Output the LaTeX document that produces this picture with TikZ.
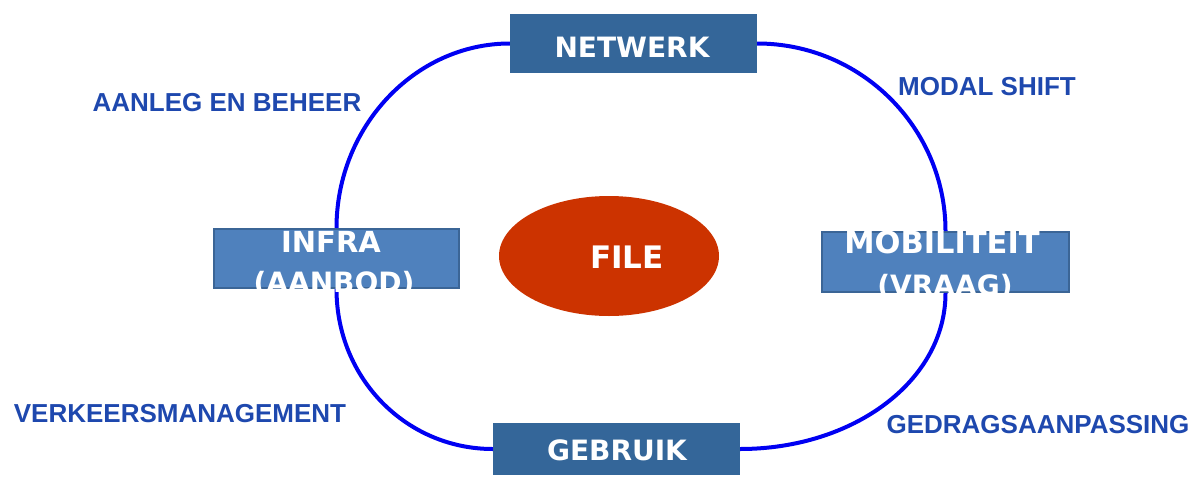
\documentclass[tikz,border=0pt]{standalone}
\usepackage{fontspec}
\setmainfont{Liberation Sans}
\newfontfamily\boxfont{DejaVu Sans}
\usetikzlibrary{shapes.geometric}

\definecolor{darkbox}{HTML}{346699}
\definecolor{lightbox}{HTML}{4F81BD}
\definecolor{lightedge}{HTML}{3B6596}
\definecolor{jam}{HTML}{CC3300}
\definecolor{loopblue}{HTML}{0000F2}
\definecolor{labelblue}{HTML}{1E48AE}

\begin{document}
\begin{tikzpicture}[x=1pt, y=-1pt,
  darkstep/.style={rectangle, fill=darkbox, inner sep=0pt, minimum width=247pt},
  lightstep/.style={rectangle, fill=lightbox, draw=lightedge, line width=2pt, inner sep=0pt},
  boxtext/.style={text=white, inner sep=0pt, anchor=base, font=\boxfont\bfseries\fontsize{28}{32}\selectfont},
  jamshape/.style={ellipse, fill=jam, inner sep=0pt, minimum width=220pt, minimum height=120pt},
  looppart/.style={draw=loopblue, line width=4pt},
  flowlabel/.style={text=labelblue, inner sep=0pt, font=\bfseries\fontsize{26}{30}\selectfont}
]
\useasboundingbox (0,0) rectangle (1196,477);

% four stations of the cycle and the jam in the middle
\node[darkstep, minimum height=59pt] (net) at (633.5,43.5) {};
\node[lightstep, minimum width=245pt, minimum height=59pt] (infra) at (336.5,258.5) {};
\node[lightstep, minimum width=247pt, minimum height=60pt] (mob) at (945.5,262) {};
\node[darkstep, minimum height=52pt] (geb) at (616.5,449) {};
\node[jamshape] (file) at (609,256) {};

% the closed loop linking the stations
\draw[looppart] (net.west) .. controls +(-95,0) and +(0,-101) .. (infra.north);
\draw[looppart] (net.east) .. controls +(104,0) and +(0,-103) .. (mob.north);
\draw[looppart] (infra.south) .. controls +(0,90) and +(-86,0) .. (geb.west);
\draw[looppart] (mob.south) .. controls +(0,88) and +(113,0) .. (geb.east);

% station texts
\node[boxtext] (net-t) at (632,57) {NETWERK};
\node[boxtext, font=\boxfont\bfseries\fontsize{29}{32}\selectfont] (infra-t1) at (331,252) {INFRA};
\node[boxtext] (infra-t2) at (334,292) {(AANBOD)};
\node[boxtext, font=\boxfont\bfseries\fontsize{30.5}{34}\selectfont] (mob-t1) at (942,253) {MOBILITEIT};
\node[boxtext] (mob-t2) at (945,295) {(VRAAG)};
\node[boxtext] (geb-t) at (617,460) {GEBRUIK};
\node[boxtext, font=\boxfont\bfseries\fontsize{31}{34}\selectfont] (file-t) at (627,268) {FILE};

% measures along the loop
\node[flowlabel] (aanleg) at (227,102.5) {AANLEG EN BEHEER};
\node[flowlabel] (modal) at (987,86.5) {MODAL SHIFT};
\node[flowlabel] (verkeer) at (180,413.5) {VERKEERSMANAGEMENT};
\node[flowlabel] (gedrag) at (1038,425) {GEDRAGSAANPASSING};
\end{tikzpicture}
\end{document}
